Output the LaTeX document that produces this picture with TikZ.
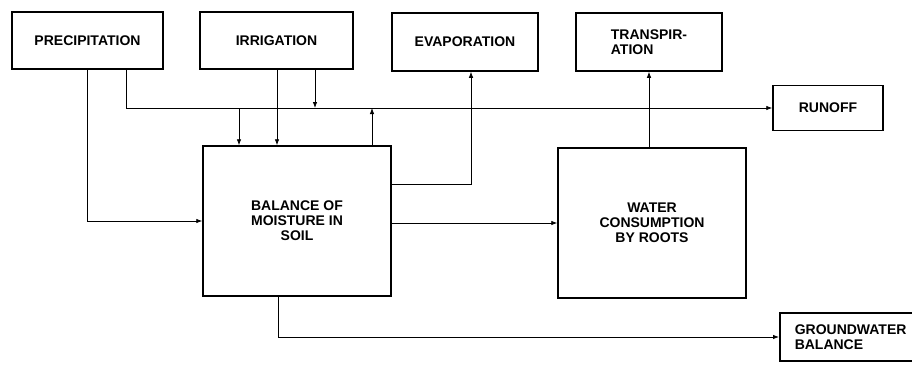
\documentclass[tikz,border=0pt]{standalone}
\usepackage{fontspec}
\setmainfont{Liberation Sans}
\usetikzlibrary{arrows.meta}
\begin{document}
\begin{tikzpicture}[x=1pt,y=-1pt,
  box/.style={draw, line width=1.5pt, rectangle, inner sep=0pt,
    font=\bfseries\fontsize{14}{15}\selectfont, align=center},
  conn/.style={line width=0.8pt, -{Latex[length=6pt,width=4.5pt]}}]
\fill[white] (0,0) rectangle (912,391);
\useasboundingbox (0,0) rectangle (912,391);
\begin{scope}
\clip (0,0) rectangle (912,391);
\node[box, minimum width=151pt, minimum height=57pt] (prec) at (87.5,40.5) {PRECIPITATION};
\node[box, minimum width=153pt, minimum height=57pt] (irr) at (276.5,40.5) {IRRIGATION};
\node[box, minimum width=146pt, minimum height=58pt] (evap) at (465,42) {EVAPORATION};
\node[box, minimum width=146pt, minimum height=58pt, align=left] (trans) at (649,42) {TRANSPIR-\\ATION};
\node[box, minimum width=110pt, minimum height=45pt] (runoff) at (828,108) {RUNOFF};
\node[box, minimum width=188pt, minimum height=150pt] (bal) at (297,221) {BALANCE OF\\MOISTURE IN\\SOIL};
\node[box, minimum width=188pt, minimum height=150pt] (water) at (652,223) {WATER\\CONSUMPTION\\BY ROOTS};
\node[box, minimum height=48pt, anchor=west, align=left, text width=125pt, inner xsep=15pt] (ground) at (779,337) {GROUNDWATER\\BALANCE};
\end{scope}
\coordinate (xa) at (126,0);
\coordinate (xb) at (87,0);
\coordinate (xc) at (239,0);
\coordinate (xd) at (277,0);
\coordinate (xe) at (315,0);
\coordinate (xf) at (372,0);
\coordinate (xg) at (471,0);
\coordinate (xh) at (649,0);
\coordinate (xi) at (278,0);
\coordinate (yb) at (0,184);
\draw[conn] (prec.south -| xa) |- (runoff.west);
\draw[conn] (prec.south -| xb) |- (bal.west);
\draw[conn] (irr.south -| xd) -- (bal.north -| xd);
\draw[conn] (irr.south -| xe) -- (runoff.west -| xe);
\draw[conn] (runoff.west -| xc) -- (bal.north -| xc);
\draw[conn] (bal.north -| xf) -- (runoff.west -| xf);
\draw[conn] (bal.east |- yb) -| (evap.south -| xg);
\draw[conn] (bal.east |- water.west) -- (water.west);
\draw[conn] (water.north -| xh) -- (trans.south -| xh);
\draw[conn] (bal.south -| xi) |- (ground.west);
\end{tikzpicture}
\end{document}
